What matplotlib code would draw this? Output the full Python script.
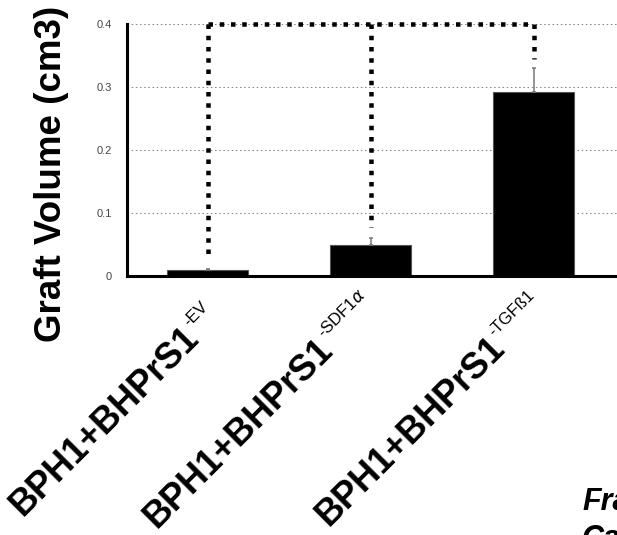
import numpy as np
import matplotlib
matplotlib.use('Agg')
import matplotlib.pyplot as plt
import matplotlib.transforms as mtransforms
from matplotlib.font_manager import FontProperties

plt.rcParams['font.family'] = ['Liberation Sans', 'DejaVu Sans']

# data
groups = ['BPH1+BHPrS1', 'BPH1+BHPrS1', 'BPH1+BHPrS1']
suffixes = ['-EV', r'-SDF1$\alpha$', '-TGFß1']
volumes = [0.009, 0.050, 0.292]
errors = [0.002, 0.011, 0.038]
yticks = [0, 0.1, 0.2, 0.3, 0.4]
ytick_labels = ['0', '0.1', '0.2', '0.3', '0.4']
# significance bracket: top level and where each leg stops
bracket_top = 0.4
bracket_ends = [0.03, 0.078, 0.345]

# layout (pixels at dpi 100)
label_offsets = [(-184.5, -241), (-213.7, -253), (-205.3, -251)]
sup_raise = 17
sup_gap = 1

W, H = 617, 535
fig = plt.figure(figsize=(W / 100, H / 100), dpi=100)
ax = fig.add_axes([127 / W, 1 - 276 / H, 573 / W, 252 / H])

x = np.arange(len(volumes))
ax.bar(x, volumes, width=0.5, color='black', edgecolor='#555555', linewidth=0.8, zorder=2)
ax.errorbar(x, volumes, yerr=[np.zeros(len(errors)), errors], fmt='none',
            ecolor='#777777', elinewidth=1.1, capsize=1.5, capthick=1.1, zorder=3)

# dotted bracket
dot = dict(color='black', linewidth=3.24, linestyle=(0, (1, 1.5)),
           dash_capstyle='butt', clip_on=False, zorder=4)
ax.plot([x[0], x[-1]], [bracket_top, bracket_top], **dot)
for xi, yend in zip(x, bracket_ends):
    ax.plot([xi, xi], [bracket_top, yend], **dot)

ax.set_xlim(-0.494, 3.021)
ax.set_ylim(0, 0.4)
ax.set_yticks(yticks)
ax.set_yticklabels(ytick_labels, fontsize=8, color='#444444')
ax.tick_params(axis='y', length=0, pad=10.8)
ax.set_xticks([])
ax.yaxis.grid(True, color='#888888', linewidth=0.75, linestyle=(0, (1.5, 2.5)))
ax.set_axisbelow(True)
for side in ['top', 'right']:
    ax.spines[side].set_visible(False)
for side in ['left', 'bottom']:
    ax.spines[side].set_linewidth(2.2)
    ax.spines[side].set_color('black')

# rotated category labels with small superscripts
renderer = fig.canvas.get_renderer()
main_prop = FontProperties(family='Liberation Sans', weight='bold', size=26)
base = mtransforms.blended_transform_factory(ax.transData, ax.transAxes)
c = s = np.sqrt(0.5)
for xi, grp, suf, (dx, dy) in zip(x, groups, suffixes, label_offsets):
    tr = base + mtransforms.ScaledTranslation(dx / 100, dy / 100, fig.dpi_scale_trans)
    ax.text(xi, 0, grp, fontproperties=main_prop, rotation=45, rotation_mode='anchor',
            ha='left', va='baseline', transform=tr, clip_on=False)
    w, h, d = renderer.get_text_width_height_descent(grp, main_prop, ismath=False)
    sx = dx + (w + sup_gap) * c - sup_raise * s
    sy = dy + (w + sup_gap) * s + sup_raise * c
    tr2 = base + mtransforms.ScaledTranslation(sx / 100, sy / 100, fig.dpi_scale_trans)
    ax.text(xi, 0, suf, fontsize=12, rotation=45, rotation_mode='anchor',
            ha='left', va='baseline', transform=tr2, clip_on=False)

fig.text(52 / W, 1 - 174 / H, 'Graft Volume (cm3)', rotation=90, ha='center', va='center',
         fontsize=26.5, fontweight='bold')

fig.text(582 / W, 1 - 510 / H, 'Fra', fontsize=22, fontweight='bold', fontstyle='italic',
         ha='left', va='baseline')
fig.text(582 / W, 1 - 547 / H, 'Ca', fontsize=22, fontweight='bold', fontstyle='italic',
         ha='left', va='baseline')

fig.savefig('out.png', dpi=100)
